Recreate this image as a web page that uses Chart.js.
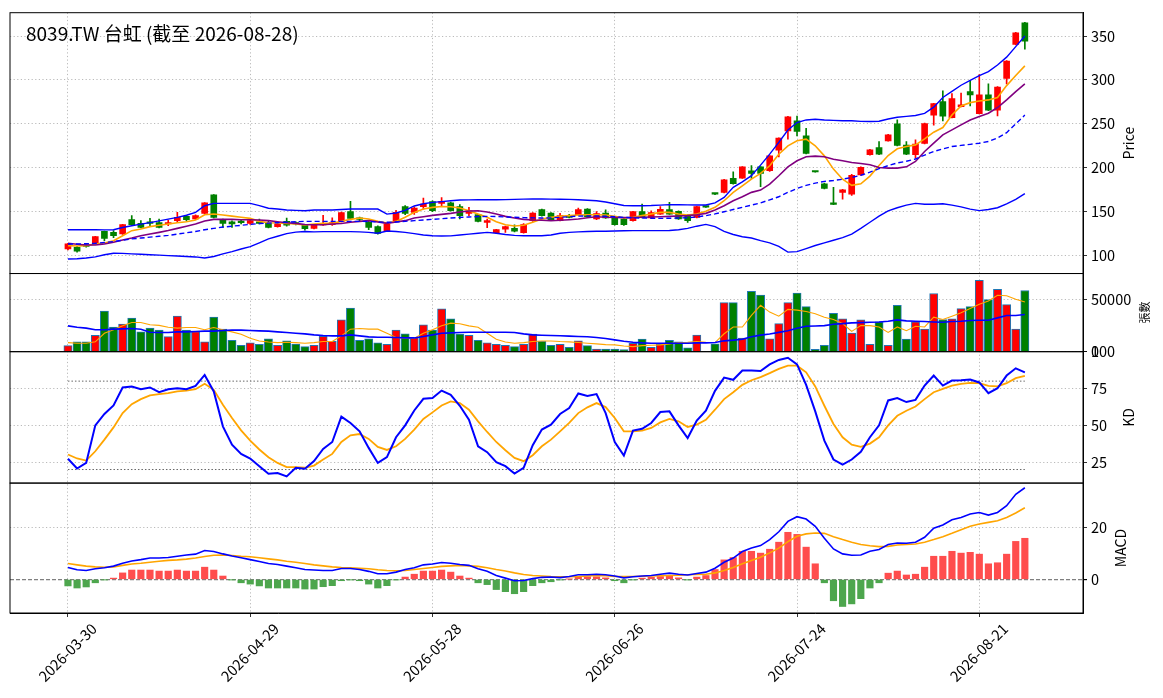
<!DOCTYPE html>
<html lang="zh-Hant">
<head>
<meta charset="utf-8">
<title>8039.TW 台虹</title>
<script src="https://cdn.jsdelivr.net/npm/chart.js@4.4.1/dist/chart.umd.min.js"></script>
<style>
  html, body { margin: 0; padding: 0; background: #fff; }
  #wrap { position: relative; width: 1163px; height: 698px; }
</style>
</head>
<body>
<div id="wrap"><canvas id="chart" width="1163" height="698"></canvas></div>
<script>
// --- DATOS ---
const chartTitle = '8039.TW 台虹 (截至 2026-08-28)';
const tickIdx = [0, 20, 40, 60, 80, 100];
const tickLabels = ['2026-03-30', '2026-04-29', '2026-05-28', '2026-06-26', '2026-07-24', '2026-08-21'];
const priceTicks = [100, 150, 200, 250, 300, 350];
const volTicks = [0, 50000];
const kdTicks = [25, 50, 75, 100];
const macdTicks = [0, 20];

const opens = [
  107.6, 109.5, 111.5, 113.3, 127.7, 126.5, 124.6, 140.9, 136.7, 137.5,
  137.5, 136, 139.8, 144.7, 141.7, 148.1, 169.3, 140.5, 138.6, 138.2,
  136.7, 138.6, 136.7, 133, 139, 137.5, 134.5, 131.1, 135, 135.2,
  139, 150, 142, 137.9, 133, 128.4, 139.8, 155.7, 149.2, 155.7,
  161.4, 159.5, 160.2, 155.7, 148.1, 146.6, 137.9, 126.1, 130, 131,
  126.1, 139.8, 152.3, 148.5, 139.8, 146, 146.6, 153, 141.7, 148.5,
  142.4, 141.7, 139.8, 150, 142.8, 147.3, 152.3, 150.4, 146.2, 143.6,
  155.8, 170.6, 172, 187.9, 188.3, 196.6, 201, 196.6, 220.1, 242,
  253.4, 236.4, 195.8, 181.8, 158.9, 172, 170, 192, 214.8, 223,
  230.7, 250, 226, 214.8, 227.7, 259.8, 275.4, 257.2, 269.7, 286.7,
  261.7, 283, 265.5, 301.9, 340.5, 365.2
];
const closes = [
  113.3, 105, 110.5, 121.6, 119.7, 122.7, 135.2, 135.2, 132.2, 136.7,
  132.2, 137.5, 143.6, 140.9, 145.5, 160.2, 143.6, 136.7, 136, 137.6,
  139.8, 136.7, 132.2, 136, 134.8, 136, 130.8, 134.8, 136.5, 137.5,
  148.9, 142.4, 141.3, 132.2, 125.4, 136, 149.2, 148.1, 154.2, 158.7,
  151.1, 161.7, 151.1, 145.5, 151.1, 139, 139.8, 129.5, 133, 127.7,
  135.2, 148.5, 145.5, 140.9, 145.5, 143.6, 152.3, 144.3, 148, 142.8,
  135.2, 135.2, 150, 143.6, 148.9, 152.7, 147.3, 141.7, 139.8, 155.7,
  155.2, 170, 186.4, 181.8, 201, 193.6, 193.6, 213.6, 233.7, 258,
  241.3, 216.3, 195.2, 176.5, 158.3, 175, 191.3, 200.4, 220.5, 215.5,
  237.5, 225.4, 215.5, 226.9, 250.4, 273, 258.7, 278.8, 271.6, 283,
  283, 265.5, 292, 321.6, 353.8, 344.3
];
const highs = [
  114, 110.5, 112.5, 122, 128, 128.5, 135.5, 145.5, 139.8, 142.4,
  141.7, 140.5, 149.2, 146, 146.5, 160.5, 169.5, 141.5, 139.5, 140.5,
  142, 141.7, 139, 137.5, 142.8, 138.5, 135.5, 135.5, 146, 143,
  149.5, 161.7, 144, 139, 134, 136.5, 151.5, 157, 155.5, 165.5,
  162.5, 166, 161, 158, 154.9, 147, 141.7, 130, 133.5, 135,
  136.5, 149, 153, 149, 148.1, 147, 154.2, 153.5, 150, 152,
  143, 142.2, 150.5, 158.7, 151.1, 155.7, 160.6, 151, 146.6, 156,
  156.2, 171, 186.8, 195.5, 201.5, 202.5, 201.5, 214, 234, 258.5,
  259, 245, 196, 182.5, 177.7, 175.5, 192.5, 201, 221, 229.9,
  238, 254.5, 229.9, 231.8, 251, 273.5, 287.5, 284.5, 285, 299.6,
  306, 295.5, 292.5, 322, 354.2, 365.5
];
const lows = [
  106.5, 104, 109.5, 113, 117, 120.5, 124, 134, 131.5, 134,
  131.5, 134, 137.5, 139.5, 141, 147.5, 143, 132.2, 132.2, 136,
  135.5, 136, 131.5, 132.5, 133.5, 135, 129, 130.5, 134.5, 134.5,
  138.5, 141.5, 139, 129.5, 124.5, 127.5, 139, 146.5, 147, 153,
  150, 157, 150.5, 141.7, 145.5, 138.5, 131.8, 125.5, 126.5, 127,
  125.5, 139, 145, 140.5, 139.5, 143, 146, 143.8, 141, 142.4,
  134.8, 134.5, 139.3, 143, 142.4, 147, 147, 141.3, 137.9, 143,
  154.8, 169.5, 171.5, 181.3, 187.9, 187.9, 178.4, 195.8, 212.5, 232.6,
  236.4, 215.8, 195, 176, 158, 164.4, 168.5, 191.5, 214.3, 215,
  230.2, 225, 214.8, 211, 227.2, 248.5, 253.4, 256.8, 269.2, 270.4,
  261.2, 265, 259.1, 295.5, 340, 335
];

// medias y bandas de Bollinger
const ma5 = [
  111.4, 111, 111.4, 113.3, 114.4, 117, 122.7, 128.4, 130.3, 133,
  134.5, 136, 137.5, 138.6, 140.5, 146.6, 147.3, 146.2, 145, 143.6,
  142.4, 139, 137.5, 137.1, 136.7, 136, 134.8, 136, 136.7, 136.7,
  139, 141.3, 142.8, 141.7, 139, 137.1, 139, 143.6, 149.2, 153,
  154.9, 156, 155.7, 154.2, 151.1, 147.3, 143.6, 138.6, 135.2, 133.7,
  134.5, 137.9, 141.7, 143.6, 144.7, 145.5, 146.2, 146.6, 146.6, 146.2,
  144.7, 142.8, 143.6, 145.5, 147.3, 149.2, 149.2, 147.3, 146.2, 147.3,
  150.4, 155, 162.5, 172, 179.5, 187.1, 193.6, 202.3, 215.5, 225,
  230.7, 232.6, 225, 213.6, 198.5, 187, 180, 181.8, 190.5, 202.7,
  214, 221.6, 224.2, 226.1, 232.9, 240.5, 245.8, 260.2, 270.4, 274.2,
  276.1, 277.3, 280, 293.6, 305, 316
];
const ma10 = [
  114, 113, 112, 112, 113.3, 115.2, 117.8, 120, 122.7, 124.6,
  126.5, 128.5, 131, 133.5, 136, 139.5, 141.3, 141.3, 141.3, 140.9,
  140.9, 140.5, 139.8, 138.6, 137.5, 136.7, 135.5, 135.2, 135.2, 136,
  136.5, 137.9, 139, 139.8, 138.3, 136.7, 138.3, 139.8, 142.8, 144.3,
  145.8, 147, 148.1, 149.6, 150.8, 151.1, 149.6, 147.3, 144.7, 142.8,
  141.3, 140.5, 140.3, 139.8, 140.2, 140.9, 141.7, 143.2, 144.3, 143.6,
  143.4, 143.2, 143.4, 143.6, 143.9, 144.3, 144.7, 145.1, 145.5, 146.6,
  148.1, 151.9, 156.8, 162.5, 167, 172, 174.6, 181.4, 190.9, 201.1,
  208, 212.5, 213.3, 212.5, 209.8, 208, 206, 204.9, 203.4, 200.4,
  199.6, 199.6, 201.1, 207.2, 218.6, 228, 237.5, 243.2, 248.9, 254.5,
  258.3, 262.1, 268.6, 277.3, 286.7, 295.5
];
const ma20 = [
  113.3, 113.3, 113.5, 114, 115, 116, 117.5, 119, 120, 121,
  122, 123, 124.5, 126, 127.5, 129.5, 131, 132.5, 133.5, 134.5,
  135.5, 136.5, 137, 137.5, 138, 138.5, 139, 139, 139, 139,
  139, 139, 139, 138.8, 138.3, 138, 138.3, 139, 139.8, 140.5,
  141.3, 142, 142.8, 143.5, 144, 144.5, 144.7, 144.5, 144, 143.6,
  143.3, 143, 142.8, 143, 143.6, 144.3, 145, 145.3, 145.2, 144.8,
  144.2, 143.5, 143, 142.8, 142.5, 142.4, 142.5, 142.8, 143.2, 144,
  145.5, 147.5, 150, 152.5, 155, 157.5, 160, 163.5, 167, 172,
  176.5, 180, 182.5, 184.5, 185.5, 187, 189, 191.5, 195, 199,
  202.5, 205.5, 207.5, 210, 214.5, 218.5, 221.5, 224.2, 225.5, 226.7,
  228, 230, 234, 240, 250, 260
];
const bbUpper = [
  129.5, 129.5, 129.5, 129.5, 129.3, 129.5, 132, 134, 135.8, 137.5,
  139.5, 141.5, 143.5, 146, 149.2, 156.8, 159.5, 159.5, 159.5, 159.5,
  159.5, 157, 154, 153, 152, 151.5, 151.1, 151.9, 151.9, 152,
  152.5, 153, 153, 153, 153, 147.3, 148.5, 151.5, 156.5, 159,
  160.6, 161.5, 162.5, 163.3, 163.5, 163.6, 163.6, 163.6, 163.7, 164,
  164.3, 164.4, 164.4, 164.3, 164.2, 164, 163.6, 163, 162.5, 161,
  159, 157, 156.8, 156.8, 157, 157.5, 158, 158, 157.8, 157.6,
  157.6, 160, 166.3, 177.7, 184, 191, 203, 215.5, 229, 243,
  251.5, 254.5, 255.3, 254.5, 254, 253.5, 253.5, 252.8, 252.7, 253,
  255.5, 257.5, 258.5, 259.5, 262, 269, 280, 287, 294, 299.5,
  305, 309.5, 317, 326, 338, 350
];
const bbLower = [
  96.2, 96.5, 97.3, 98.5, 101, 102.7, 102.5, 102, 101.5, 101,
  100.5, 100, 99.5, 99, 98.5, 97.3, 99, 102, 104.5, 107.5,
  110.2, 114.5, 119, 122, 125, 126.8, 127.5, 127, 127.3, 127.3,
  127.3, 127.3, 127, 126.5, 125.5, 128, 127.5, 126.5, 125, 123.5,
  122.7, 122.3, 122.5, 123.5, 124.5, 125.5, 126.5, 125.5, 124, 123,
  122.7, 122.7, 122.7, 123.5, 125.5, 126.5, 127, 127.5, 127.7, 127.8,
  128, 128.3, 128.4, 128.4, 128.4, 128.4, 128.6, 129.5, 131, 133.5,
  135.5, 133, 127.5, 124, 121.5, 120, 117, 114.5, 110.5, 104,
  104.5, 108, 111.5, 114.5, 117.5, 120.5, 124.5, 131, 138, 145,
  151, 154.5, 157.5, 159.5, 158.5, 158.5, 159, 157.5, 155.5, 153,
  151.2, 152.5, 154.5, 159, 164, 170.5
];

// volumen (張數)
const volumes = [
  5800, 9350, 9350, 15800, 39000, 23500, 26450, 32250, 19000, 22600,
  20650, 14500, 34200, 20650, 19350, 9350, 33200, 21600, 11000, 6100,
  8400, 7100, 12250, 6100, 10300, 7400, 4800, 6100, 14800, 10000,
  30650, 41900, 11000, 12250, 8400, 7100, 20650, 17100, 13550, 25800,
  20650, 41000, 31600, 16800, 15800, 11000, 8400, 7100, 6100, 4800,
  7100, 16800, 10000, 6000, 7150, 4200, 10400, 5850, 2600, 2600,
  2600, 1950, 8100, 12000, 4200, 7150, 11000, 9400, 3600, 15900,
  300, 7450, 47000, 47000, 13000, 57800, 54200, 12300, 26950, 47000,
  56200, 43200, 2300, 6150, 36700, 31500, 17850, 30500, 7150, 28600,
  6150, 44500, 12000, 28600, 21750, 55850, 30850, 31500, 41250, 43200,
  68500, 50000, 59750, 45100, 21750, 58750
];
const volMa5 = [
  8700, 8050, 8050, 9500, 17700, 21000, 24800, 28000, 28000, 25800,
  25200, 23500, 22600, 23200, 23200, 21000, 23200, 21000, 19000, 16800,
  12900, 10300, 9350, 8700, 9000, 8700, 8050, 8700, 9700, 9700,
  15200, 21600, 22250, 21600, 21600, 17700, 13550, 12900, 12900, 17700,
  21000, 24800, 27400, 26800, 24800, 23500, 17700, 11900, 9350, 8050,
  8700, 9700, 10300, 10300, 9750, 9400, 8750, 8100, 7450, 6800,
  6500, 5500, 4850, 5850, 6150, 6500, 7450, 8750, 9100, 9750,
  9100, 8750, 17200, 23700, 23700, 34750, 44500, 38000, 34100, 40600,
  39900, 38600, 36350, 33100, 30850, 26950, 19500, 25000, 25000, 23700,
  18500, 23700, 20100, 24350, 23700, 33100, 30850, 34100, 37300, 41550,
  45450, 48700, 54200, 53600, 50300, 47700
];
const volMa20 = [
  24800, 23500, 22600, 21000, 21000, 21600, 21900, 22250, 21600, 18700,
  18400, 18400, 19000, 19000, 19350, 19700, 19700, 20300, 20650, 20650,
  20300, 20000, 19700, 19000, 18400, 17700, 17100, 16100, 15500, 15200,
  15200, 16100, 15200, 14200, 13900, 13900, 13550, 13200, 13200, 14500,
  16100, 17700, 18000, 18400, 18700, 18700, 18700, 18700, 18700, 18400,
  17100, 16100, 15800, 15500, 15250, 14950, 14600, 14300, 13650, 12650,
  11350, 10050, 9100, 8450, 8100, 8100, 8100, 8100, 8100, 8450,
  8450, 8750, 10400, 11050, 12000, 14300, 15900, 16900, 18500, 20100,
  22400, 24350, 24700, 25000, 26300, 26950, 27600, 27900, 28250, 28550,
  29200, 30500, 29550, 29200, 28900, 28550, 28250, 28900, 29200, 29850,
  30200, 30200, 32450, 34750, 34750, 35700
];

// KD
const kVals = [
  27.3, 20.7, 24.5, 50, 57.7, 63.5, 75.7, 76.4, 74.5, 75.7,
  72.5, 74.5, 75.2, 74.5, 76.8, 84.2, 73, 49.3, 36.9, 30.6,
  27.5, 22.3, 17.1, 17.6, 15.3, 21.2, 20.5, 25.7, 34, 38.7,
  55.9, 51.6, 45.9, 34.7, 24.5, 28.4, 41.9, 50, 60.1, 68,
  68.5, 73.6, 70.7, 63.3, 53.8, 35.8, 31.8, 25, 22.3, 17.3,
  21.2, 36.5, 47.1, 50.5, 57.7, 61.7, 71.6, 70, 71.2, 58.3,
  38.7, 29.5, 46.4, 47.7, 51.6, 59, 59.5, 50, 41.4, 53.2,
  59.9, 73.4, 82.4, 80.9, 87.2, 87.2, 86.9, 91.4, 94.4, 95.9,
  91.4, 77.5, 59.5, 39.6, 26.8, 23.4, 26.8, 32, 41.9, 50,
  66.9, 68.5, 65.8, 67.3, 77, 83.8, 77, 80.4, 80.6, 81.1,
  79.1, 71.8, 75.2, 83.8, 88.7, 86
];
const dVals = [
  30.2, 27.5, 26.1, 32.4, 40.3, 48.6, 58.3, 64.4, 67.8, 70.3,
  71.2, 71.8, 73, 73.6, 74.5, 78.2, 74.1, 64, 55, 46.6,
  39.6, 33.6, 28.4, 24.5, 21.6, 21.6, 21.2, 22.7, 26.8, 30.6,
  38.7, 43.2, 44.1, 40.8, 35.4, 33.3, 35.8, 40.8, 47.1, 54.3,
  58.8, 63.5, 66.2, 65.1, 60.6, 52.7, 45.5, 38.7, 33.1, 27.9,
  25.7, 29.7, 35.8, 40.3, 45.9, 51.6, 58.3, 62.2, 65.1, 62.4,
  55, 45.9, 45.9, 46.4, 48.2, 52, 54.3, 52.7, 48.9, 50.5,
  53.8, 60.6, 67.8, 72.5, 77.5, 80.6, 82.7, 85.4, 88.3, 90.5,
  90.5, 86, 76.4, 63.3, 50.9, 41.9, 36.9, 35.4, 37.6, 41.9,
  50, 56.5, 59.9, 62.8, 67.8, 72.5, 74.8, 77, 78.2, 78.8,
  78.6, 76.8, 76.4, 78.6, 82, 83.6
];
const kdLevels = [80, 20];

// MACD
const difVals = [
  4.6, 3.7, 3.4, 4.1, 4.5, 5.1, 6.2, 7.1, 7.6, 8.2,
  8.2, 8.4, 8.9, 9.4, 9.7, 11.1, 10.7, 9.8, 9, 8.3,
  7.6, 6.9, 6.1, 5.7, 5.1, 4.5, 3.8, 3.6, 3.4, 3.4,
  4.2, 4.2, 3.8, 3.1, 2.2, 2.2, 2.8, 3.8, 4.5, 5.6,
  5.9, 6.5, 6.2, 5.7, 5.4, 4.1, 3.1, 1.5, 0.5, -0.5,
  -0.4, 0.3, 0.8, 0.9, 0.7, 1.1, 1.8, 1.8, 2, 1.8,
  1.3, 0.6, 1, 1.3, 1.5, 2, 2.4, 2, 1.7, 2.3,
  2.8, 4.3, 6.6, 8.2, 10.7, 12.1, 13, 15.3, 18.3, 22.3,
  24.1, 23.2, 20.4, 15.8, 11.7, 9.8, 9.3, 9.4, 10.8, 11.5,
  13.4, 14, 13.9, 14.3, 16.2, 19.7, 20.9, 22.9, 23.8, 25.1,
  25.7, 24.7, 25.7, 28.3, 32.7, 35.2
];
const deaVals = [
  6.1, 5.6, 5.1, 4.8, 4.7, 4.8, 5.4, 5.9, 6.2, 6.6,
  7, 7.3, 7.5, 7.8, 8.2, 8.8, 9.3, 9.4, 9.2, 8.9,
  8.7, 8.3, 7.9, 7.5, 7, 6.6, 6.1, 5.6, 5.2, 4.8,
  4.6, 4.5, 4.3, 4.1, 3.7, 3.4, 3.3, 3.4, 3.8, 4.2,
  4.6, 5, 5.2, 5.4, 5.2, 5, 4.5, 3.8, 3.2, 2.5,
  1.9, 1.5, 1.3, 1.1, 1, 1, 1.1, 1.3, 1.5, 1.4,
  1.1, 1.1, 1.1, 1.2, 1.3, 1.4, 1.5, 1.6, 1.8, 1.9,
  2, 2.5, 3.4, 4.6, 6, 7.3, 8.5, 10.2, 12, 14.5,
  16.6, 17.5, 17.8, 17.7, 16.4, 15.3, 14.3, 13.4, 12.9, 12.6,
  12.7, 13.2, 13.4, 13.6, 14.3, 15.3, 16.4, 17.7, 19.1, 20.4,
  21.3, 21.9, 22.5, 23.8, 25.5, 27.5
];
const oscVals = [
  -2.5, -3.3, -2.9, -1.3, -0.1, 0.5, 2.5, 3.6, 3.6, 3.6,
  3.2, 3.2, 3.6, 3.2, 3.2, 4.7, 3.6, 1.3, -0.1, -1.3,
  -1.8, -2.5, -3.3, -3.3, -3.3, -3.3, -3.7, -3.7, -2.8, -2.4,
  -0.5, -0.1, -0.5, -1.8, -3.3, -2.4, -0.1, 0.9, 2, 3.2,
  3.2, 3.6, 2.8, 1.3, 0.5, -1.3, -2, -3.9, -4.7, -5.5,
  -4.7, -2.4, -1.3, -0.9, -0.1, 0.1, 1, 1, 1, 0.6,
  -0.5, -1.3, -0.1, 0.5, 0.8, 1.1, 1.5, 0.6, -0.1, 0.9,
  1.5, 3.8, 7.5, 8.4, 10.8, 10.8, 10.1, 11.6, 14.3, 18.1,
  17.3, 12.4, 6, -1.3, -8.2, -10.4, -9.4, -7.4, -3.3, -1.3,
  2.4, 3.2, 1.7, 2, 4.7, 8.9, 8.9, 10.8, 10.1, 10.4,
  9.7, 6, 6.4, 9.7, 14.6, 15.8
];

// --- ESTILO ---
const FONT = '"Noto Sans CJK TC", "Noto Sans", sans-serif';
const UP = '#ff0000', DOWN = '#008000';
const GRID = '#a8a8a8';
const DOT = [1.2, 2.4];
const TICK_SIZE = 14.5;

const candleColor = closes.map((c, i) => c >= opens[i] ? UP : DOWN);
const xy = arr => arr.map((v, i) => ({ x: i, y: v }));
const lastIdx = closes.length - 1;

function lineSet(data, axis, color, width, dash) {
  return {
    type: 'line', data: xy(data), yAxisID: axis, order: 0,
    borderColor: color, borderWidth: width, borderDash: dash || [],
    pointRadius: 0, tension: 0, fill: false
  };
}

function yScale(weight, min, max, tickList, extra) {
  return Object.assign({
    type: 'linear', position: 'right', stack: 'panels', stackWeight: weight,
    min: min, max: max,
    afterBuildTicks: s => { s.ticks = tickList.map(v => ({ value: v })); },
    afterFit: s => { s.width = 80; },
    ticks: { color: '#000', padding: 4, font: { size: TICK_SIZE, family: FONT },
             callback: v => String(v) },
    grid: { offset: false, color: GRID, lineWidth: 0.8, tickColor: '#000', tickLength: 4, tickBorderDash: [] },
    border: { display: true, color: '#000', width: 1, dash: DOT }
  }, extra || {});
}

const axisTitles = [
  { id: 'yP', text: 'Price', dx: 46, size: 14 },
  { id: 'yV', text: '張數', dx: 62, size: 11 },
  { id: 'yK', text: 'KD', dx: 46, size: 14 },
  { id: 'yM', text: 'MACD', dx: 38, size: 14 }
];

// marcos de panel, títulos de eje y título general
const decor = {
  id: 'decor',
  afterDraw(chart) {
    const { ctx, chartArea } = chart;
    ctx.save();
    ctx.strokeStyle = '#000';
    ctx.lineWidth = 1;
    axisTitles.forEach(t => {
      const s = chart.scales[t.id];
      ctx.strokeRect(chartArea.left, s.top, chartArea.right - chartArea.left, s.bottom - s.top);
    });
    ctx.fillStyle = '#000';
    axisTitles.forEach(t => {
      const s = chart.scales[t.id];
      ctx.save();
      ctx.translate(chartArea.right + t.dx, (s.top + s.bottom) / 2);
      ctx.rotate(-Math.PI / 2);
      ctx.font = t.size + 'px ' + FONT;
      ctx.textAlign = 'center';
      ctx.textBaseline = 'middle';
      ctx.fillText(t.text, 0, 0);
      ctx.restore();
    });
    ctx.font = '19px ' + FONT;
    ctx.textAlign = 'left';
    ctx.textBaseline = 'middle';
    ctx.fillText(chartTitle, chartArea.left + 16, chartArea.top + 21);
    ctx.restore();
  }
};

const datasets = [
  // precio
  lineSet(bbUpper, 'yP', '#0000ff', 1.4),
  lineSet(bbLower, 'yP', '#0000ff', 1.4),
  lineSet(ma20, 'yP', '#0000ff', 1.4, [5, 3]),
  lineSet(ma10, 'yP', '#800080', 1.6),
  lineSet(ma5, 'yP', '#ffa500', 1.6),
  {
    type: 'bar', yAxisID: 'yP', order: 1, grouped: false,
    data: lows.map((l, i) => ({ x: i, y: [l, highs[i]] })),
    backgroundColor: candleColor, barThickness: 1
  },
  {
    type: 'bar', yAxisID: 'yP', order: 1, grouped: false,
    data: opens.map((o, i) => ({ x: i, y: [o, closes[i]] })),
    backgroundColor: candleColor, barThickness: 6, minBarLength: 1.5
  },
  // volumen
  lineSet(volMa20, 'yV', '#0000ff', 1.6),
  lineSet(volMa5, 'yV', '#ffa500', 1.1),
  {
    type: 'bar', yAxisID: 'yV', order: 1, grouped: false,
    data: xy(volumes), backgroundColor: candleColor,
    borderColor: '#1f77b4', borderWidth: 1, barThickness: 8.2
  },
  // KD
  lineSet(kVals, 'yK', '#0000ff', 2),
  lineSet(dVals, 'yK', '#ffa500', 1.8),
  ...kdLevels.map(lv => ({
    type: 'line', yAxisID: 'yK', order: 2,
    data: [{ x: 0, y: lv }, { x: lastIdx, y: lv }],
    borderColor: '#666', borderWidth: 1, borderDash: [1.5, 2], pointRadius: 0
  })),
  // MACD
  lineSet(difVals, 'yM', '#0000ff', 1.6),
  lineSet(deaVals, 'yM', '#ffa500', 1.6),
  {
    type: 'bar', yAxisID: 'yM', order: 1, grouped: false,
    data: xy(oscVals),
    backgroundColor: oscVals.map(v => v >= 0 ? '#ff4d4d' : '#4da64d'),
    barThickness: 6.5
  }
];

Chart.defaults.font.family = FONT;

new Chart(document.getElementById('chart'), {
  type: 'line',
  data: { datasets },
  options: {
    responsive: false,
    animation: false,
    events: [],
    layout: { padding: { left: 10, top: 10, right: 0, bottom: 0 } },
    plugins: { legend: { display: false }, tooltip: { enabled: false } },
    scales: {
      x: {
        type: 'linear', min: -6.36, max: 111.38, offset: false,
        afterBuildTicks: s => { s.ticks = tickIdx.map(v => ({ value: v })); },
        afterFit: s => { s.height = 85; },
        ticks: {
          autoSkip: false, minRotation: 45, maxRotation: 45, color: '#000',
          padding: 3, labelOffset: 26,
          font: { size: TICK_SIZE, family: FONT },
          callback: v => tickLabels[tickIdx.indexOf(v)]
        },
        grid: { offset: false, color: GRID, lineWidth: 0.8, tickColor: '#000', tickLength: 4, tickBorderDash: [] },
        border: { display: true, color: '#000', width: 1, dash: DOT }
      },
      yP: yScale(262, 79.6, 376.6, priceTicks),
      yV: yScale(78.5, 0, 75000, volTicks),
      yK: yScale(132, 10.8, 100, kdTicks),
      yM: yScale(130.5, -12.9, 37, macdTicks, {
        grid: {
          offset: false,
          color: c => (c.tick && c.tick.value === 0) ? '#808080' : GRID,
          lineWidth: c => (c.tick && c.tick.value === 0) ? 1.2 : 0.8,
          tickColor: '#000', tickLength: 4, tickBorderDash: []
        },
        border: {
          display: true, color: '#000', width: 1,
          dash: c => (c.tick && c.tick.value === 0) ? [4, 2] : DOT
        }
      })
    }
  },
  plugins: [decor]
});
</script>
</body>
</html>
